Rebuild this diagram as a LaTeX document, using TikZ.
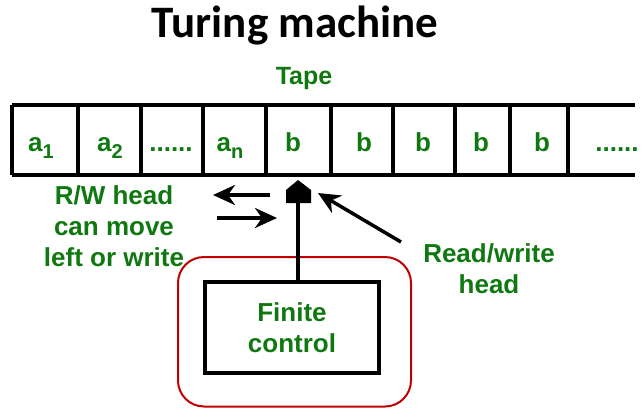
\documentclass[tikz,border=0pt]{standalone}
\usepackage{fontspec}
\setmainfont{Liberation Sans}
\newfontfamily\titlefont{Carlito}
\usetikzlibrary{arrows.meta, calc}

\definecolor{tmgreen}{RGB}{16,120,16}
\definecolor{tmred}{RGB}{192,0,0}
\newcommand{\cellsub}[1]{\raisebox{-0.28em}{\fontsize{20}{20}\selectfont #1}}

\begin{document}
\begin{tikzpicture}[x=1pt, y=-1pt,
    lbl/.style={text=tmgreen, font=\bfseries\fontsize{26}{31}\selectfont, align=center},
    cell/.style={lbl, anchor=base},
    tapeline/.style={line width=3.5pt},
    move/.style={-{Stealth[length=22pt, width=20pt, inset=7pt]}, line width=3.5pt}]
    \useasboundingbox (0,0) rectangle (641,408);

    % Titel und Beschriftung des Bandes
    \node[font=\titlefont\bfseries\fontsize{45}{45}\selectfont] (title) at (295,26) {Turing machine};
    \node[lbl, font=\bfseries\fontsize{25}{25}\selectfont] (tape) at (304,78) {Tape};

    % Band
    \draw[tapeline] (12,105) -- (635,105);
    \draw[tapeline] (12,175) -- (635,175);
    \foreach \x in {12,78,141,203,266,331,393,455,510,568}
        \draw[tapeline] (\x,105) -- (\x,175);

    % Zellinhalte
    \node[cell] (c1) at (41,151) {a\cellsub{1}};
    \node[cell] (c2) at (110,151) {a\cellsub{2}};
    \node[cell] (c3) at (171,151) {......};
    \node[cell] (c4) at (230,151) {a\cellsub{n}};
    \node[cell] (c5) at (293,151) {b};
    \foreach \i/\x in {6/364,7/423,8/481,9/542}
        \node[cell] (c\i) at (\x,151) {b};
    \node[cell] (c10) at (617,151) {......};

    % Lese-/Schreibkopf
    \fill (286,203) -- (286,190) -- (298,180) -- (311,190) -- (311,203) -- cycle;
    \coordinate (headbase) at (298,203);
    \coordinate (headright) at (318,193);

    % Endliche Steuerung
    \node[draw, line width=4pt, minimum width=174pt, minimum height=91pt,
          lbl] (ctrl) at (292,327.5) {Finite\\control};
    \draw[tmred, line width=2pt, rounded corners=26pt] (178,257) rectangle (411,406.5);
    \draw[line width=4.5pt] (headbase) -- (headbase |- ctrl.north);

    % Bewegungspfeile
    \node[lbl] (rwtext) at (114,226) {R/W head\\can move\\left or write};
    \coordinate (lt) at (270,195);
    \coordinate (lh) at (213,195);
    \coordinate (rt) at (217,218);
    \coordinate (rh) at (277,218);
    \draw[move] (lt) -- (lh);
    \draw[move] (rt) -- (rh);

    \node[lbl] (rwlabel) at (489,269) {Read/write\\head};
    \coordinate (dtail) at (401,242);
    \draw[move] (dtail) -- (headright);
\end{tikzpicture}
\end{document}
